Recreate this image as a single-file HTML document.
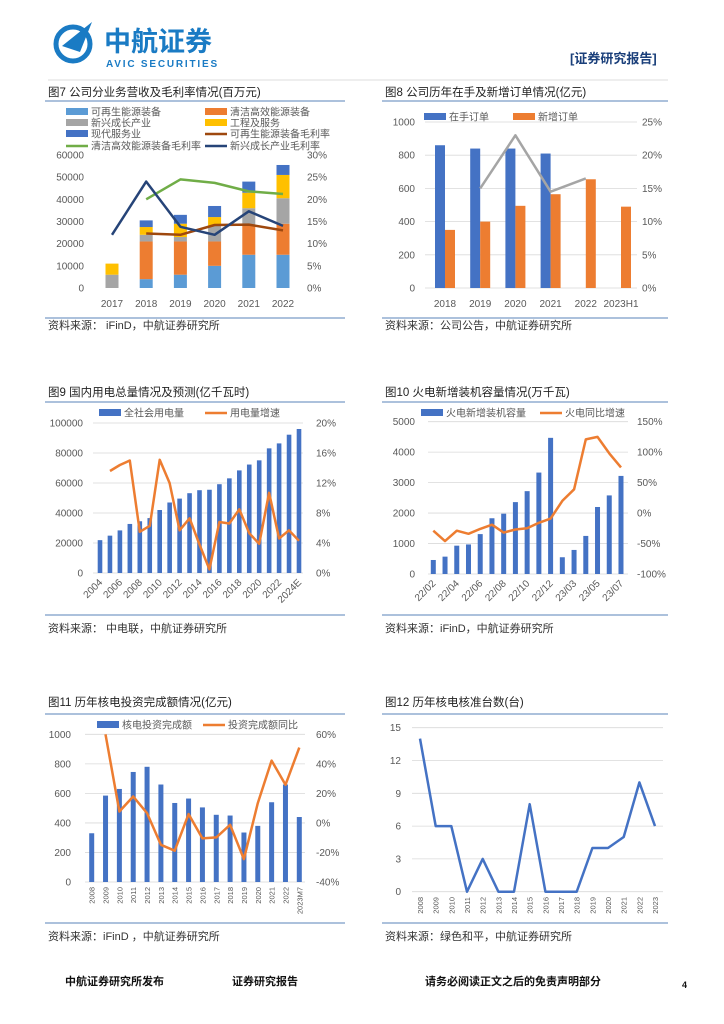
<!DOCTYPE html>
<html><head><meta charset="utf-8">
<style>
body{margin:0;background:#fff;}
svg{display:block;font-family:"Liberation Sans","Noto Sans CJK SC",sans-serif;}
.t{font-size:11.5px;fill:#222;}
.tk{font-size:10px;fill:#595959;}
.lg{font-size:10px;fill:#595959;}
.src{font-size:11px;fill:#333;}
</style></head>
<body>
<svg id="pg" width="724" height="1024" viewBox="0 0 724 1024">
  <g>
    <circle cx="73" cy="44" r="17" fill="none" stroke="#1a7bc4" stroke-width="5"/>
    <path d="M62 46 L92 22 L80 52 Z" fill="#1a7bc4"/>
    <text x="104" y="51" font-size="27" font-weight="bold" fill="#1a7bc4">中航证券</text>
    <text x="106" y="67" font-size="10" font-weight="bold" fill="#1a7bc4" letter-spacing="1.8">AVIC SECURITIES</text>
    <text x="570" y="63" font-size="13" font-weight="bold" fill="#1a3f7a">[证券研究报告]</text>
    <line x1="48" y1="80" x2="668" y2="80" stroke="#ddd" stroke-width="1"/>
  </g>
  <g id="frames"></g>
  <g id="charts"></g>
  <g>
    <text x="65" y="985" font-size="11" font-weight="bold" fill="#111">中航证券研究所发布</text>
    <text x="232" y="985" font-size="11" font-weight="bold" fill="#111">证券研究报告</text>
    <text x="425" y="985" font-size="11" font-weight="bold" fill="#111">请务必阅读正文之后的免责声明部分</text>
    <text x="682" y="988" font-size="9" font-weight="bold" fill="#111">4</text>
  </g>
</svg>
<script>
// ---- Chart 7 data
const c7Years=['2017','2018','2019','2020','2021','2022'];
const c7Renew=[0,4000,6000,10000,15000,15000];
const c7Clean=[0,17000,15000,11000,13000,14000];
const c7Emerg=[6000,3000,2000,7000,8000,11500];
const c7Eng=[5000,3500,6000,4000,7000,10500];
const c7Mod=[0,3000,4000,5000,5000,4500];
const c7MarginRenew=[null,12.3,12.0,14.2,14.3,13.0];
const c7MarginClean=[null,20.0,24.5,23.7,21.8,21.2];
const c7MarginEmerg=[12.0,24.0,13.8,12.0,17.3,14.0];
const c7LeftTicks=['0','10000','20000','30000','40000','50000','60000'];
const c7RightTicks=['0%','5%','10%','15%','20%','25%','30%'];
// ---- Chart 8 data
const c8Years=['2018','2019','2020','2021','2022','2023H1'];
const c8Backlog=[860,840,840,810,null,null];
const c8NewOrders=[350,400,495,565,655,490];
const c8Ratio=[null,15.0,23.0,14.5,16.5,null];
const c8LeftTicks=['0','200','400','600','800','1000'];
const c8RightTicks=['0%','5%','10%','15%','20%','25%'];
// ---- Chart 9 data
const c9Years=['2004','2005','2006','2007','2008','2009','2010','2011','2012','2013','2014','2015','2016','2017','2018','2019','2020','2021','2022','2023','2024E'];
const c9Usage=[21900,24900,28400,32700,34500,36600,42000,47000,49600,53200,55200,55500,59200,63100,68400,72300,75100,83100,86400,92200,96000];
const c9Growth=[null,13.6,14.4,15.0,5.5,6.3,15.1,12.0,5.7,7.3,3.8,0.5,6.8,6.6,8.5,5.3,3.9,10.7,4.6,5.7,4.3];
const c9LeftTicks=['0','20000','40000','60000','80000','100000'];
const c9RightTicks=['0%','4%','8%','12%','16%','20%'];
// ---- Chart 10 data
const c10Months=['22/02','22/03','22/04','22/05','22/06','22/07','22/08','22/09','22/10','22/11','22/12','23/02','23/03','23/04','23/05','23/06','23/07'];
const c10Capacity=[460,570,930,970,1310,1830,1980,2360,2720,3330,4470,550,790,1250,2200,2580,3220];
const c10Growth=[-29,-46,-29,-34,-26,-19,-32,-27,-25,-16,-9,20,39,121,125,98,75];
const c10LeftTicks=['0','1000','2000','3000','4000','5000'];
const c10RightTicks=['-100%','-50%','0%','50%','100%','150%'];
// ---- Chart 11 data
const c11Years=['2008','2009','2010','2011','2012','2013','2014','2015','2016','2017','2018','2019','2020','2021','2022','2023M7'];
const c11Invest=[330,585,630,745,780,660,535,565,505,455,450,335,380,540,660,440];
const c11Growth=[null,60,7.7,17.9,6.6,-14.8,-18.8,6.0,-10.5,-9.8,-1.3,-24.5,13.4,42.2,25.8,51.0];
const c11LeftTicks=['0','200','400','600','800','1000'];
const c11RightTicks=['-40%','-20%','0%','20%','40%','60%'];
// ---- Chart 12 data
const c12Years=['2008','2009','2010','2011','2012','2013','2014','2015','2016','2017','2018','2019','2020','2021','2022','2023'];
const c12Approved=[14,6,6,0,3,0,0,8,0,0,0,4,4,5,10,6];
const c12Ticks=['0','3','6','9','12','15'];

const NS='http://www.w3.org/2000/svg';
function mk(parent,tag,attrs,txt){const e=document.createElementNS(NS,tag);for(const k in attrs)e.setAttribute(k,attrs[k]);if(txt!=null)e.textContent=txt;parent.appendChild(e);return e;}
function lin(d0,d1,r0,r1){return v=>r0+(v-d0)*(r1-r0)/(d1-d0);}
const root=document.getElementById('charts');
const frames=document.getElementById('frames');

function frame(x1,x2,title,ty,lineY,botY,src,srcY,name){
  const g=mk(frames,'g',{});
  
  
  const t=mk(g,'text',{x:x1+3,y:ty,class:'t'},title);
  
  
  mk(g,'line',{x1:x1,x2:x2,y1:lineY,y2:lineY,stroke:'#7a9cc6','stroke-width':1.2});
  mk(g,'line',{x1:x1,x2:x2,y1:botY,y2:botY,stroke:'#7a9cc6','stroke-width':1.2});
  const s=mk(g,'text',{x:x1+3,y:srcY,class:'src'},src);
  
  
}
frame(45,345,'图7  公司分业务营收及毛利率情况(百万元)',96,101,318,'资料来源：  iFinD，中航证券研究所',329,'fig7');
frame(382,668,'图8  公司历年在手及新增订单情况(亿元)',96,101,318,'资料来源：公司公告，中航证券研究所',329,'fig8');
frame(45,345,'图9  国内用电总量情况及预测(亿千瓦时)',396,402,615,'资料来源：  中电联，中航证券研究所',632,'fig9');
frame(382,668,'图10  火电新增装机容量情况(万千瓦)',396,402,615,'资料来源：iFinD，中航证券研究所',632,'fig10');
frame(45,345,'图11  历年核电投资完成额情况(亿元)',706,714,923,'资料来源：iFinD ，中航证券研究所',940,'fig11');
frame(382,668,'图12  历年核电核准台数(台)',706,714,923,'资料来源：绿色和平，中航证券研究所',940,'fig12');

function axisTicks(g,ticks,yScale,vals,x,anchor,name){
  ticks.forEach((t,i)=>{
    const e=mk(g,'text',{x:x,y:yScale(vals[i])+3.5,class:'tk','text-anchor':anchor},t);
    
    
  });
}
function grid(g,vals,yScale,x1,x2){vals.forEach(v=>mk(g,'line',{x1:x1,x2:x2,y1:yScale(v),y2:yScale(v),stroke:'#d9d9d9','stroke-width':0.8}));}
function poly(g,xs,ys,color,w,name){
  let d='';let pen=false;
  xs.forEach((x,i)=>{if(ys[i]==null){pen=false;return;}d+=(pen?'L':'M')+x.toFixed(1)+' '+ys[i].toFixed(1)+' ';pen=true;});
  const p=mk(g,'path',{d:d,fill:'none',stroke:color,'stroke-width':w,'stroke-linejoin':'round'});
  
  
}
function legendRect(g,x,y,color,label,name){
  const r=mk(g,'rect',{x:x,y:y-4,width:22,height:7,fill:color});
  
  
  const t=mk(g,'text',{x:x+25,y:y+3.5,class:'lg'},label);
  
  
}
function legendLine(g,x,y,color,label,name){
  const l=mk(g,'line',{x1:x,x2:x+22,y1:y,y2:y,stroke:color,'stroke-width':2.5});
  
  
  const t=mk(g,'text',{x:x+25,y:y+3.5,class:'lg'},label);
  
  
}
const num=s=>parseFloat(s.replace('%',''));

// ===== Chart 7
(function(){
  const g=mk(root,'g',{});
  
  
  const yL=lin(0,60000,288,155), yR=lin(0,30,288,155);
  const xC=i=>112+i*34.2;
  axisTicks(g,c7LeftTicks,yL,c7LeftTicks.map(num),84,'end','y-axis-left-tick');
  axisTicks(g,c7RightTicks,yR,c7RightTicks.map(num),307,'start','y-axis-right-tick');
  c7Years.forEach((y,i)=>{const e=mk(g,'text',{x:xC(i),y:307,class:'tk','text-anchor':'middle'},y);});
  const series=[[c7Renew,'#5b9bd5'],[c7Clean,'#ed7d31'],[c7Emerg,'#a5a5a5'],[c7Eng,'#ffc000'],[c7Mod,'#4472c4']];
  c7Years.forEach((y,i)=>{let acc=0;series.forEach(([arr,col],k)=>{const v=arr[i];if(!v)return;const r=mk(g,'rect',{x:xC(i)-6.5,y:yL(acc+v),width:13,height:yL(acc)-yL(acc+v),fill:col});acc+=v;});});
  const xs=c7Years.map((_,i)=>xC(i));
  poly(g,xs,c7MarginClean.map(v=>v==null?null:yR(v)),'#70ad47',2.5,'line-clean-margin');
  poly(g,xs,c7MarginRenew.map(v=>v==null?null:yR(v)),'#9e480e',2.5,'line-renew-margin');
  poly(g,xs,c7MarginEmerg.map(v=>v==null?null:yR(v)),'#264478',2.5,'line-emerging-margin');
  legendRect(g,66,112,'#5b9bd5','可再生能源装备','legend-renew');
  legendRect(g,205,112,'#ed7d31','清洁高效能源装备','legend-clean');
  legendRect(g,66,123,'#a5a5a5','新兴成长产业','legend-emerging');
  legendRect(g,205,123,'#ffc000','工程及服务','legend-engineering');
  legendRect(g,66,134,'#4472c4','现代服务业','legend-modern');
  legendLine(g,205,134,'#9e480e','可再生能源装备毛利率','legend-renew-margin');
  legendLine(g,66,146,'#70ad47','清洁高效能源装备毛利率','legend-clean-margin');
  legendLine(g,205,146,'#264478','新兴成长产业毛利率','legend-emerging-margin');
})();

// ===== Chart 8
(function(){
  const g=mk(root,'g',{});
  
  
  const yL=lin(0,1000,288,122), yR=lin(0,25,288,122);
  const xC=i=>445+i*35.2;
  grid(g,c8LeftTicks.map(num),yL,425,637);
  axisTicks(g,c8LeftTicks,yL,c8LeftTicks.map(num),415,'end','y-axis-left-tick');
  axisTicks(g,c8RightTicks,yR,c8RightTicks.map(num),642,'start','y-axis-right-tick');
  c8Years.forEach((y,i)=>{const e=mk(g,'text',{x:xC(i),y:307,class:'tk','text-anchor':'middle'},y);});
  c8Years.forEach((y,i)=>{
    if(c8Backlog[i]!=null){const r=mk(g,'rect',{x:xC(i)-10,y:yL(c8Backlog[i]),width:10,height:yL(0)-yL(c8Backlog[i]),fill:'#4472c4'});}
    if(c8NewOrders[i]!=null){const r=mk(g,'rect',{x:xC(i),y:yL(c8NewOrders[i]),width:10,height:yL(0)-yL(c8NewOrders[i]),fill:'#ed7d31'});}
  });
  poly(g,c8Years.map((_,i)=>xC(i)),c8Ratio.map(v=>v==null?null:yR(v)),'#a5a5a5',2.5,'line-ratio');
  legendRect(g,424,117,'#4472c4','在手订单','legend-backlog');
  legendRect(g,513,117,'#ed7d31','新增订单','legend-new-orders');
})();

// ===== Chart 9
(function(){
  const g=mk(root,'g',{});
  
  
  const yL=lin(0,100000,573,423), yR=lin(0,20,573,423);
  const xC=i=>100+i*9.95;
  grid(g,c9LeftTicks.map(num),yL,93,303);
  axisTicks(g,c9LeftTicks,yL,c9LeftTicks.map(num),83,'end','y-axis-left-tick');
  axisTicks(g,c9RightTicks,yR,c9RightTicks.map(num),316,'start','y-axis-right-tick');
  c9Years.forEach((y,i)=>{
    const r=mk(g,'rect',{x:xC(i)-2.3,y:yL(c9Usage[i]),width:4.6,height:yL(0)-yL(c9Usage[i]),fill:'#4472c4'});
    
    
    if(i%2===0){const e=mk(g,'text',{x:xC(i)+3,y:583,class:'tk','text-anchor':'end',transform:`rotate(-45 ${xC(i)+3} 583)`},y);}
  });
  poly(g,c9Years.map((_,i)=>xC(i)),c9Growth.map(v=>v==null?null:yR(v)),'#ed7d31',2.5,'line-growth');
  legendRect(g,99,413,'#4472c4','全社会用电量','legend-usage');
  legendLine(g,205,413,'#ed7d31','用电量增速','legend-growth');
})();

// ===== Chart 10
(function(){
  const g=mk(root,'g',{});
  
  
  const yL=lin(0,5000,574,421.7), yR=lin(-100,150,574,421.7);
  const xC=i=>433.3+i*11.73;
  grid(g,c10LeftTicks.map(num),yL,428,628);
  axisTicks(g,c10LeftTicks,yL,c10LeftTicks.map(num),415,'end','y-axis-left-tick');
  axisTicks(g,c10RightTicks,yR,c10RightTicks.map(num),637,'start','y-axis-right-tick');
  c10Months.forEach((m,i)=>{
    const r=mk(g,'rect',{x:xC(i)-2.5,y:yL(c10Capacity[i]),width:5,height:yL(0)-yL(c10Capacity[i]),fill:'#4472c4'});
    
    
    if(i%2===0){const e=mk(g,'text',{x:xC(i)+3,y:584,class:'tk','text-anchor':'end',transform:`rotate(-45 ${xC(i)+3} 584)`},m);}
  });
  poly(g,c10Months.map((_,i)=>xC(i)),c10Growth.map(v=>yR(v)),'#ed7d31',2.5,'line-growth');
  legendRect(g,421,413,'#4472c4','火电新增装机容量','legend-capacity');
  legendLine(g,540,413,'#ed7d31','火电同比增速','legend-growth');
})();

// ===== Chart 11
(function(){
  const g=mk(root,'g',{});
  
  
  const yL=lin(0,1000,882,734.3), yR=lin(-40,60,882,734.3);
  const xC=i=>91.7+i*13.84;
  grid(g,c11LeftTicks.map(num),yL,85,305);
  axisTicks(g,c11LeftTicks,yL,c11LeftTicks.map(num),71,'end','y-axis-left-tick');
  axisTicks(g,c11RightTicks,yR,c11RightTicks.map(num),316,'start','y-axis-right-tick');
  c11Years.forEach((y,i)=>{
    const r=mk(g,'rect',{x:xC(i)-2.5,y:yL(c11Invest[i]),width:5,height:yL(0)-yL(c11Invest[i]),fill:'#4472c4'});
    
    
    const e=mk(g,'text',{x:xC(i)+3,y:887,'font-size':'7.5px',fill:'#595959','text-anchor':'end',transform:`rotate(-90 ${xC(i)+3} 887)`},y);
    
    
  });
  poly(g,c11Years.map((_,i)=>xC(i)),c11Growth.map(v=>v==null?null:yR(v)),'#ed7d31',2.5,'line-growth');
  legendRect(g,97,725,'#4472c4','核电投资完成额','legend-investment');
  legendLine(g,203,725,'#ed7d31','投资完成额同比','legend-growth');
})();

// ===== Chart 12
(function(){
  const g=mk(root,'g',{});
  
  
  const y=lin(0,15,891.7,727.7);
  const xC=i=>420+i*15.67;
  grid(g,c12Ticks.map(num),y,412,663);
  axisTicks(g,c12Ticks,y,c12Ticks.map(num),401,'end','y-axis-tick');
  c12Years.forEach((yr,i)=>{
    const e=mk(g,'text',{x:xC(i)+3,y:897,'font-size':'7.5px',fill:'#595959','text-anchor':'end',transform:`rotate(-90 ${xC(i)+3} 897)`},yr);
    
    
  });
  poly(g,c12Years.map((_,i)=>xC(i)),c12Approved.map(v=>y(v)),'#4472c4',2.5,'line-approvals');
})();
</script>
</body></html>
